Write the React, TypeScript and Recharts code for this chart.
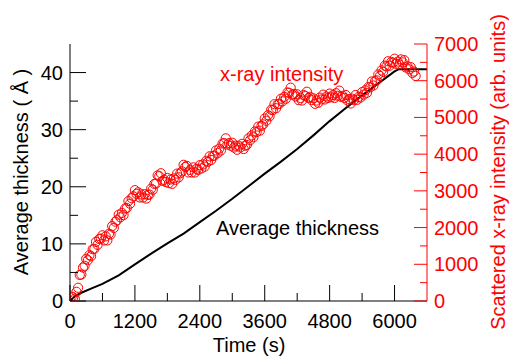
import React from 'react';
import { ComposedChart, Line, Scatter, XAxis, YAxis } from 'recharts';

// average film thickness (Å) against deposition time (s)
const thicknessTime = [0, 100, 200, 400, 600, 900, 1200, 1500, 1800, 2100, 2400, 2700, 3000, 3300, 3600, 3900, 4200, 4500, 4800, 5100, 5400, 5700, 6000, 6080, 6300, 6600];
const thicknessValue = [0, 0.9, 1.4, 2.2, 3.0, 4.5, 6.4, 8.3, 10.1, 11.8, 13.8, 15.8, 17.9, 20.1, 22.3, 24.4, 26.6, 29.0, 31.5, 33.8, 36.0, 38.1, 40.2, 40.6, 40.6, 40.6];

// scattered x-ray intensity readings: [time (s), intensity (arb. units)]
const xrayReadings: [number, number][] = [
    [0, 0], [30, 120], [60, 100], [90, 60], [120, 250], [150, 360], [180, 710], [210, 720], [240, 910], [270, 960],
    [300, 1150], [330, 1110], [360, 1250], [390, 1220], [420, 1410], [450, 1420], [480, 1610], [510, 1530], [540, 1690], [570, 1700],
    [600, 1790], [630, 1650], [660, 1760], [690, 1650], [720, 1830], [750, 1810], [780, 2040], [810, 1990], [840, 2160], [870, 2200],
    [900, 2350], [930, 2280], [960, 2400], [990, 2340], [1020, 2520], [1050, 2530], [1080, 2720], [1110, 2650], [1140, 2800], [1170, 2850],
    [1200, 3020], [1230, 2920], [1260, 2960], [1290, 2820], [1320, 2900], [1350, 2820], [1380, 2910], [1410, 2790], [1440, 2890], [1470, 2900],
    [1500, 3060], [1530, 3030], [1560, 3190], [1590, 3200], [1620, 3420], [1650, 3400], [1680, 3480], [1710, 3270], [1740, 3300], [1770, 3240],
    [1800, 3350], [1830, 3210], [1860, 3310], [1890, 3190], [1920, 3340], [1950, 3300], [1980, 3470], [2010, 3370], [2040, 3480], [2070, 3530],
    [2100, 3710], [2130, 3650], [2160, 3680], [2190, 3500], [2220, 3570], [2250, 3500], [2280, 3640], [2310, 3500], [2340, 3600], [2370, 3570],
    [2400, 3700], [2430, 3610], [2460, 3720], [2490, 3660], [2520, 3820], [2550, 3790], [2580, 3940], [2610, 3840], [2640, 3950], [2670, 3960],
    [2700, 4100], [2730, 4030], [2760, 4150], [2790, 4100], [2820, 4290], [2850, 4300], [2880, 4430], [2910, 4260], [2940, 4300], [2970, 4230],
    [3000, 4310], [3030, 4180], [3060, 4230], [3090, 4120], [3120, 4230], [3150, 4180], [3180, 4280], [3210, 4140], [3240, 4230], [3270, 4250],
    [3300, 4430], [3330, 4380], [3360, 4510], [3390, 4460], [3420, 4620], [3450, 4600], [3480, 4750], [3510, 4640], [3540, 4770], [3570, 4810],
    [3600, 4970], [3630, 4910], [3660, 5060], [3690, 5030], [3720, 5210], [3750, 5200], [3780, 5360], [3810, 5250], [3840, 5360], [3870, 5370],
    [3900, 5510], [3930, 5440], [3960, 5560], [3990, 5510], [4020, 5680], [4050, 5670], [4080, 5810], [4110, 5620], [4140, 5640], [4170, 5570],
    [4200, 5630], [4230, 5470], [4260, 5530], [4290, 5460], [4320, 5610], [4350, 5580], [4380, 5700], [4410, 5530], [4440, 5560], [4470, 5470],
    [4500, 5520], [4530, 5370], [4560, 5460], [4590, 5400], [4620, 5540], [4650, 5490], [4680, 5620], [4710, 5490], [4740, 5570], [4770, 5530],
    [4800, 5650], [4830, 5550], [4860, 5610], [4890, 5530], [4920, 5660], [4950, 5590], [4980, 5730], [5010, 5560], [5040, 5590], [5070, 5530],
    [5100, 5610], [5130, 5460], [5160, 5500], [5190, 5380], [5220, 5510], [5250, 5470], [5280, 5610], [5310, 5480], [5340, 5560], [5370, 5540],
    [5400, 5690], [5430, 5620], [5460, 5740], [5490, 5670], [5520, 5830], [5550, 5820], [5580, 5980], [5610, 5870], [5640, 5990], [5670, 6010],
    [5700, 6170], [5730, 6130], [5760, 6280], [5790, 6240], [5820, 6410], [5850, 6390], [5880, 6530], [5910, 6410], [5940, 6510], [5970, 6490],
    [6000, 6600], [6030, 6460], [6060, 6520], [6090, 6440], [6120, 6580], [6150, 6500], [6180, 6560], [6210, 6360], [6240, 6390], [6270, 6310],
    [6300, 6370], [6330, 6210], [6360, 6250], [6390, 6130],
];

const timeTicks = [0, 600, 1200, 1800, 2400, 3000, 3600, 4200, 4800, 5400, 6000];
const thicknessTicks = [0, 5, 10, 15, 20, 25, 30, 35, 40];
const intensityTicks = [0, 500, 1000, 1500, 2000, 2500, 3000, 3500, 4000, 4500, 5000, 5500, 6000, 6500, 7000];

const thicknessData = thicknessTime.map((t, i) => ({ t, thk: thicknessValue[i] }));
const xrayData = xrayReadings.map(([t, i]) => ({ t, i }));

const FONT = '"Liberation Sans", Arial, sans-serif';
const RED = '#ff0000';

const BottomTick = (props: any) => {
    const { x, y, payload } = props;
    const major = payload.value % 1200 === 0;
    return (
        <g>
            <line x1={x} x2={x} y1={y} y2={y - (major ? 16 : 8)} stroke="#000" strokeWidth={1} />
            {major && (
                <text x={x} y={y + 27} textAnchor="middle" fontSize={20} fontFamily={FONT} fill="#000">
                    {payload.value}
                </text>
            )}
        </g>
    );
};

const TopTick = (props: any) => {
    const { x, y, payload } = props;
    const major = payload.value % 1200 === 0;
    return <line x1={x} x2={x} y1={y} y2={y + (major ? 16 : 8)} stroke="#000" strokeWidth={1} />;
};

const LeftTick = (props: any) => {
    const { x, y, payload } = props;
    const major = payload.value % 10 === 0;
    return (
        <g>
            <line x1={x} x2={x + (major ? 16 : 8)} y1={y} y2={y} stroke="#000" strokeWidth={1} />
            {major && (
                <text x={x - 7} y={y} dy="0.35em" textAnchor="end" fontSize={20} fontFamily={FONT} fill="#000">
                    {payload.value}
                </text>
            )}
        </g>
    );
};

const RightTick = (props: any) => {
    const { x, y, payload } = props;
    const major = payload.value % 1000 === 0;
    return (
        <g>
            <line x1={x} x2={x - (major ? 13 : 7)} y1={y} y2={y} stroke={RED} strokeWidth={1} />
            {major && (
                <text x={x + 7} y={y} dy="0.35em" textAnchor="start" fontSize={20} fontFamily={FONT} fill={RED}>
                    {payload.value}
                </text>
            )}
        </g>
    );
};

const OpenCircle = (props: any) => (
    <circle cx={props.cx} cy={props.cy} r={4.6} fill="none" stroke={RED} strokeWidth={1} />
);

const textStyle: React.CSSProperties = {
    position: 'absolute',
    fontSize: 20,
    lineHeight: '20px',
    whiteSpace: 'nowrap',
    fontFamily: FONT,
};

export default function App() {
    return (
        <div style={{ position: 'absolute', left: 0, top: 0, width: 509, height: 356, background: '#fff', fontFamily: FONT }}>
            <ComposedChart width={509} height={356} margin={{ top: 44, right: 0, bottom: 0, left: 0 }}>
                <XAxis
                    xAxisId="bottom"
                    dataKey="t"
                    type="number"
                    domain={[0, 6600]}
                    ticks={timeTicks}
                    interval={0}
                    allowDataOverflow
                    height={55}
                    tickSize={0}
                    tickMargin={0}
                    tickLine={false}
                    axisLine={{ stroke: '#000', strokeWidth: 1 }}
                    tick={<BottomTick />}
                />
                <XAxis
                    xAxisId="top"
                    orientation="top"
                    dataKey="t"
                    type="number"
                    domain={[0, 6600]}
                    ticks={timeTicks}
                    interval={0}
                    allowDataOverflow
                    height={0}
                    tickSize={0}
                    tickMargin={0}
                    tickLine={false}
                    axisLine={{ stroke: '#000', strokeWidth: 1 }}
                    tick={<TopTick />}
                />
                <YAxis
                    yAxisId="left"
                    dataKey="thk"
                    type="number"
                    domain={[0, 45]}
                    ticks={thicknessTicks}
                    interval={0}
                    allowDataOverflow
                    width={70}
                    tickSize={0}
                    tickMargin={0}
                    tickLine={false}
                    axisLine={{ stroke: '#000', strokeWidth: 1 }}
                    tick={<LeftTick />}
                />
                <YAxis
                    yAxisId="right"
                    orientation="right"
                    dataKey="i"
                    type="number"
                    domain={[0, 7000]}
                    ticks={intensityTicks}
                    interval={0}
                    allowDataOverflow
                    width={82}
                    tickSize={0}
                    tickMargin={0}
                    tickLine={false}
                    axisLine={{ stroke: RED, strokeWidth: 1 }}
                    tick={<RightTick />}
                />
                <Scatter
                    xAxisId="bottom"
                    yAxisId="right"
                    data={xrayData}
                    dataKey="i"
                    shape={<OpenCircle />}
                    isAnimationActive={false}
                />
                <Line
                    xAxisId="bottom"
                    yAxisId="left"
                    data={thicknessData}
                    dataKey="thk"
                    type="linear"
                    stroke="#000"
                    strokeWidth={2}
                    dot={false}
                    activeDot={false}
                    isAnimationActive={false}
                />
            </ComposedChart>

            <span style={{ ...textStyle, left: 220, top: 64, color: RED }}>x-ray intensity</span>
            <span style={{ ...textStyle, left: 216, top: 218, color: '#000' }}>Average thickness</span>
            <span style={{ ...textStyle, left: 249, top: 335, color: '#000', transform: 'translateX(-50%)' }}>Time (s)</span>
            <span
                style={{ ...textStyle, left: 21, top: 172, color: '#000', transform: 'translate(-50%, -50%) rotate(-90deg)' }}
            >
                Average thickness ( Å )
            </span>
            <span
                style={{ ...textStyle, left: 498, top: 172, color: RED, transform: 'translate(-50%, -50%) rotate(-90deg)' }}
            >
                Scattered x-ray intensity (arb. units)
            </span>
        </div>
    );
}
